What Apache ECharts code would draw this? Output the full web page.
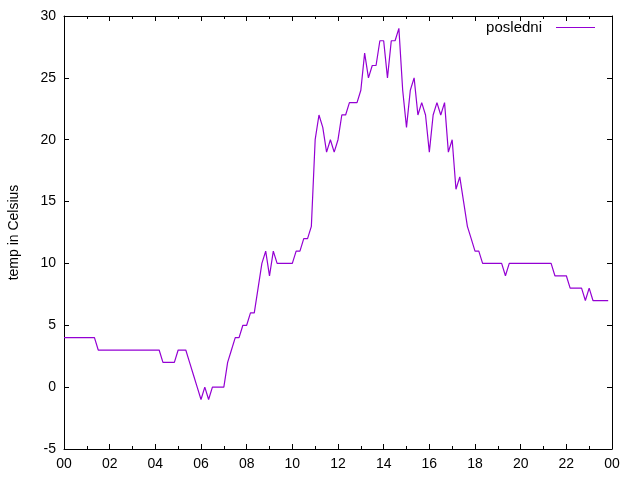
<!DOCTYPE html>
<html>
<head>
<meta charset="utf-8">
<script src="https://cdn.jsdelivr.net/npm/echarts@6/dist/echarts.min.js"></script>
<style>html,body{margin:0;padding:0;background:#fff}#c{width:640px;height:480px}</style>
</head>
<body>
<div id="c"></div>
<script>
const seriesName = 'posledni';
const yAxisTitle = 'temp in Celsius';
const xTickLabels = ['00','02','04','06','08','10','12','14','16','18','20','22','00'];
const times = [
'00:00','00:10','00:20','00:30','00:40','00:50','01:00','01:10','01:20','01:30','01:40','01:50',
'02:00','02:10','02:20','02:30','02:40','02:50','03:00','03:10','03:20','03:30','03:40','03:50',
'04:00','04:10','04:20','04:30','04:40','04:50','05:00','05:10','05:20','05:30','05:40','05:50',
'06:00','06:10','06:20','06:30','06:40','06:50','07:00','07:10','07:20','07:30','07:40','07:50',
'08:00','08:10','08:20','08:30','08:40','08:50','09:00','09:10','09:20','09:30','09:40','09:50',
'10:00','10:10','10:20','10:30','10:40','10:50','11:00','11:10','11:20','11:30','11:40','11:50',
'12:00','12:10','12:20','12:30','12:40','12:50','13:00','13:10','13:20','13:30','13:40','13:50',
'14:00','14:10','14:20','14:30','14:40','14:50','15:00','15:10','15:20','15:30','15:40','15:50',
'16:00','16:10','16:20','16:30','16:40','16:50','17:00','17:10','17:20','17:30','17:40','17:50',
'18:00','18:10','18:20','18:30','18:40','18:50','19:00','19:10','19:20','19:30','19:40','19:50',
'20:00','20:10','20:20','20:30','20:40','20:50','21:00','21:10','21:20','21:30','21:40','21:50',
'22:00','22:10','22:20','22:30','22:40','22:50','23:00','23:10','23:20','23:30','23:40','23:50'
];
const temps = [
4,4,4,4,4,4,4,4,4,3,3,3,
3,3,3,3,3,3,3,3,3,3,3,3,
3,3,2,2,2,2,3,3,3,2,1,0,
-1,0,-1,0,0,0,0,2,3,4,4,5,
5,6,6,8,10,11,9,11,10,10,10,10,
10,11,11,12,12,13,20,22,21,19,20,19,
20,22,22,23,23,23,24,27,25,26,26,28,
28,25,28,28,29,24,21,24,25,22,23,22,
19,22,23,22,23,19,20,16,17,15,13,12,
11,11,10,10,10,10,10,10,9,10,10,10,
10,10,10,10,10,10,10,10,10,9,9,9,
9,8,8,8,8,7,8,7,7,7,7,7
];

function toMinutes(t){ const p = t.split(':'); return (+p[0])*60 + (+p[1]); }
const data = times.map((t,i) => [toMinutes(t), temps[i]]);

const FONT = 'Liberation Sans, Arial, sans-serif';
const chart = echarts.init(document.getElementById('c'), null, {renderer:'canvas'});
const axisLine = {show:true, onZero:false, lineStyle:{color:'#000', width:1}};
const tick = {show:true, inside:true, length:5, lineStyle:{color:'#000'}};
chart.setOption({
  animation:false,
  backgroundColor:'#fff',
  grid:{left:64, right:28, top:16, bottom:31, containLabel:false, outerBoundsMode:'none'},
  legend:{
    show:true, right:40, top:15, align:'right',
    itemWidth:39, itemHeight:1, icon:'rect',
    textStyle:{fontFamily:FONT, fontSize:15, color:'#000', padding:[0,9,0,0]},
    data:[{name:seriesName, icon:'rect'}]
  },
  xAxis:[{
    type:'value', min:0, max:1440, interval:120, position:'bottom',
    axisLine:axisLine, axisTick:tick,
    minorTick:{show:true, splitNumber:2, length:3, lineStyle:{color:'#000'}},
    splitLine:{show:false}, minorSplitLine:{show:false},
    axisLabel:{show:true, margin:8, fontFamily:FONT, fontSize:14, color:'#000',
      formatter:(v)=> xTickLabels[Math.round(v/120)]}
  },{
    type:'value', min:0, max:1440, interval:120, position:'top',
    axisLine:axisLine, axisTick:tick,
    minorTick:{show:true, splitNumber:2, length:3, lineStyle:{color:'#000'}},
    splitLine:{show:false}, minorSplitLine:{show:false}, axisLabel:{show:false}
  }],
  yAxis:[{
    type:'value', min:-5, max:30, interval:5, position:'left',
    name:yAxisTitle, nameLocation:'middle', nameGap:43, nameRotate:90,
    nameTextStyle:{fontFamily:FONT, fontSize:14, color:'#000'},
    axisLine:axisLine, axisTick:tick,
    splitLine:{show:false},
    axisLabel:{show:true, margin:8, fontFamily:FONT, fontSize:14, color:'#000'}
  },{
    type:'value', min:-5, max:30, interval:5, position:'right',
    axisLine:axisLine, axisTick:tick,
    splitLine:{show:false}, axisLabel:{show:false}
  }],
  series:[{
    name:seriesName, type:'line', xAxisIndex:0, yAxisIndex:0,
    data:data, symbol:'none', showSymbol:false,
    lineStyle:{color:'#9400D3', width:1.2},
    itemStyle:{color:'#9400D3'}
  }]
});
</script>
</body>
</html>
